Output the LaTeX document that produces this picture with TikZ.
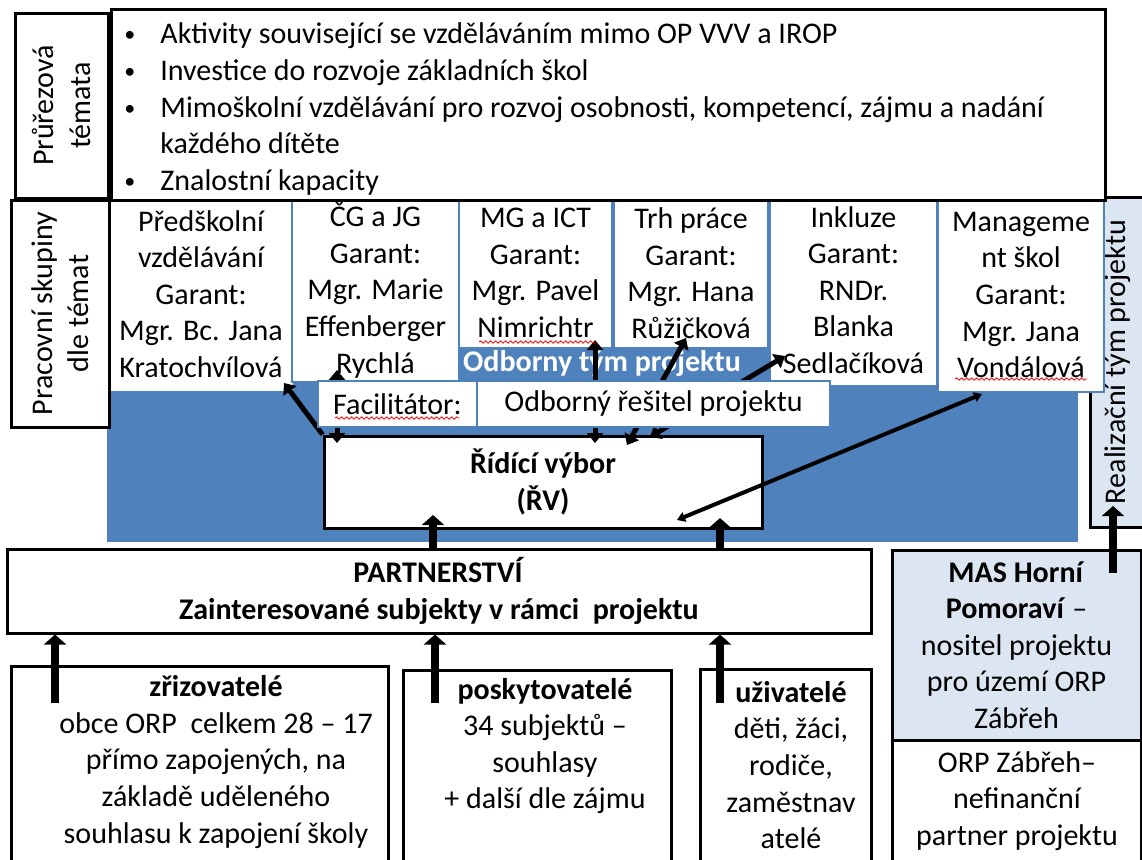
\documentclass[tikz,border=0pt]{standalone}
\usepackage{fontspec}
\setmainfont{Carlito}
\usepackage{tikz}
\usetikzlibrary{positioning,fit,arrows.meta,decorations.pathmorphing}

\definecolor{ofblue}{HTML}{4F81BD}
\definecolor{lightblue}{HTML}{DCE6F2}

\newcommand{\bod}{\makebox[19pt][l]{\hspace{1pt}\raisebox{1pt}{\fontsize{11}{11}\selectfont\textbullet}}}

\tikzset{
    blackbox/.style={draw=black, line width=1.5pt, fill=white, inner sep=0pt},
    wg/.style={draw=ofblue, line width=1pt, fill=white, inner sep=0pt},
    txt/.style={align=center},
    bigarrow/.style={line width=4pt, -{Triangle[width=11pt,length=5pt]}},
    twoarrow/.style={line width=2.5pt, {Triangle[width=8pt,length=5pt]}-{Triangle[width=8pt,length=5pt]}},
    spell/.style={red, line width=0.4pt, decorate, decoration={snake, amplitude=0.6pt, segment length=2.5pt}}
}

\begin{document}
\begin{tikzpicture}[x=0.5pt,y=-0.5pt,every node/.style={font=\fontsize{15}{18.3}\selectfont}]
    \useasboundingbox (0,0) rectangle (1142,859);

    % odborny tym a realizacni tym
    \node[fill=ofblue, inner sep=0pt, fit={(107,200) (1078,542)}] (tym) {};
    \node[fill=lightblue, draw=black, line width=1.5pt, inner sep=0pt, fit={(1090,197) (1146,527)}] (real) {};
    \node[rotate=90] (realtext) at (real.center) {Realizační tým projektu};
    \node[text=white] (odbtym) at (602,363) {\textbf{Odborny tým projektu}};

    % pracovni skupiny
    \node[wg, draw=white, fit={(110,198) (292,390)}] (pred) {};
    \node[txt] (predtext) at (pred.center) {Předškolní\\vzdělávání\\Garant:\\Mgr. Bc. Jana\\Kratochvílová};
    \node[wg, fit={(292,198) (459,382)}] (cg) {};
    \node[txt] (cgtext) at (cg.center) {ČG a JG\\Garant:\\Mgr. Marie\\Effenberger\\Rychlá};
    \node[wg, fit={(459,198) (612,348)}] (mg) {};
    \node[txt] (mgtext) at (mg.center) {MG a ICT\\Garant:\\Mgr. Pavel\\Nimrichtr};
    \node[wg, fit={(614,198) (768,348)}] (trh) {};
    \node[txt] (trhtext) at (trh.center) {Trh práce\\Garant:\\Mgr. Hana\\Růžičková};
    \node[wg, draw=white, fit={(772,196) (935,384)}] (ink) {};
    \node[txt] (inktext) at (ink.center) {Inkluze\\Garant:\\RNDr.\\Blanka\\Sedlačíková};
    \node[wg, fit={(938,198) (1104,392)}] (man) {};
    \node[txt] (mantext) at (man.center) {Manageme\\nt škol\\Garant:\\Mgr. Jana\\Vondálová};

    % prurezova temata
    \node[blackbox, fit={(111,9) (1105,200)}] (temy) {};
    \node[align=left, anchor=west, inner sep=0pt] (temytext) at (122,109)
        {\bod Aktivity související se vzděláváním mimo OP VVV a IROP\\
         \bod Investice do rozvoje základních škol\\
         \bod Mimoškolní vzdělávání pro rozvoj osobnosti, kompetencí, zájmu a nadání\\
         \hspace*{19pt}každého dítěte\\
         \bod Znalostní kapacity};
    \node[blackbox, fit={(15,13) (108,198)}] (pruz) {};
    \node[rotate=90, txt] (pruztext) at (pruz.center) {Průřezová\\témata};
    \node[blackbox, fit={(11,200) (109,427)}] (prac) {};
    \node[rotate=90, txt] (practext) at (prac.center) {Pracovní skupiny\\dle témat};

    % ridici vybor
    \node[blackbox, fit={(324,436) (762,528)}] (rv) {};
    \node[txt] (rvtext) at (rv.center) {\textbf{Řídící výbor}\\\textbf{(ŘV)}};

    \coordinate (cgtop) at (337,370);
    \coordinate (cgbot) at (337,443);
    \coordinate (mgtop) at (595,340);
    \coordinate (mgbot) at (595,443);
    \coordinate (trhtop) at (686,338);
    \coordinate (trhbot) at (627,445);
    \coordinate (inktop) at (785,356);
    \coordinate (inkbot) at (650,437);
    \draw[line width=2.5pt, -{Triangle[width=8pt,length=5pt]}] (rv.north west) -- ([xshift=-4.5pt,yshift=4pt]pred.south east);
    \draw[twoarrow] (cgbot) -- (cgtop);
    \draw[twoarrow] (mgbot) -- (mgtop);
    \draw[twoarrow] (trhbot) -- (trhtop);
    \draw[twoarrow] (inkbot) -- (inktop);

    \node[wg, fit={(318,381) (477,427)}] (fac) {};
    \node (factext) at (fac.center) {Facilitátor:};
    \node[wg, fit={(477,381) (830,427)}] (resitel) {};
    \node (resiteltext) at (resitel.center) {Odborný řešitel projektu};

    \coordinate (manbot) at (677,520);
    \coordinate (mantop) at (982,394);
    \draw[line width=2pt, {Triangle[width=5pt,length=4pt]}-{Triangle[width=5pt,length=4pt]}] (manbot) -- (mantop);

    \draw[spell] (479,342) -- (596,342);
    \draw[spell] (335,418) -- (459,418);
    \draw[spell] (955,379) -- (1087,379);

    % partnerstvi
    \node[blackbox, fit={(7,549) (871,633)}] (partner) {};
    \node[txt] (partnertext) at (partner.center) {\textbf{PARTNERSTVÍ}\\\textbf{Zainteresované subjekty v rámci\ \ projektu}};
    \node[blackbox, fit={(11,666) (388,866)}] (zriz) {};
    \node[txt] (zriztext) at (216,762) {\textbf{zřizovatelé}\\obce ORP\ \ celkem 28 – 17\\přímo zapojených, na\\základě uděleného\\souhlasu k zapojení školy};
    \node[blackbox, fit={(403,670) (671,866)}] (posk) {};
    \node[txt] (posktext) at (545,746) {\textbf{poskytovatelé}\\34 subjektů –\\souhlasy\\+ další dle zájmu};
    \node[blackbox, fit={(700,669) (871,866)}] (uziv) {};
    \node[txt] (uzivtext) at (791,765) {\textbf{uživatelé}\\děti, žáci,\\rodiče,\\zaměstnav\\atelé};
    \node[blackbox, fill=lightblue, fit={(892,550) (1141,740)}] (mas) {};
    \node[txt] (mastext) at (mas.center) {\textbf{MAS Horní}\\\textbf{Pomoraví} –\\nositel projektu\\pro území ORP\\Zábřeh};
    \node[blackbox, fit={(892,740) (1141,866)}] (orp) {};
    \node[txt] (orptext) at (1017,801) {ORP Zábřeh–\\nefinanční\\partner projektu};

    \coordinate (zrizup) at (55,703);
    \coordinate (poskup) at (435,703);
    \coordinate (uzivup) at (720,703);
    \coordinate (rvleft) at (433,515);
    \coordinate (rvright) at (720,518);
    \coordinate (masup) at (1113,573);
    \coordinate (realin) at (1113,506);
    \draw[bigarrow] (zrizup) -- (zrizup |- partner.south);
    \draw[bigarrow] (poskup) -- (poskup |- partner.south);
    \draw[bigarrow] (uzivup) -- (uzivup |- partner.south);
    \draw[bigarrow] (rvleft |- partner.north) -- (rvleft);
    \draw[bigarrow] (rvright |- partner.north) -- (rvright);
    \draw[bigarrow] (masup) -- (realin);
\end{tikzpicture}
\end{document}
